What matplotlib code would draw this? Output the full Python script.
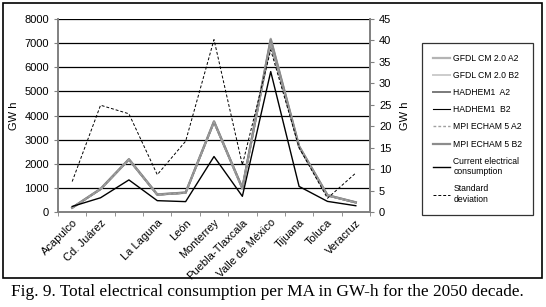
import matplotlib
matplotlib.use("Agg")
import matplotlib.pyplot as plt
import numpy as np

# Datos (GW h)
ciudades = ["Acapulco", "Cd. Juárez", "", "La Laguna", "León", "Monterrey",
            "Puebla-Tlaxcala", "Valle de México", "Tijuana", "Toluca", "Veracruz"]

gfdl_a2 = [180, 960, 2190, 730, 810, 3760, 980, 7180, 2730, 700, 400]
gfdl_b2 = [170, 940, 2160, 710, 790, 3720, 950, 7050, 2690, 680, 390]
hadhem_a2 = [175, 950, 2180, 720, 800, 3740, 1000, 7120, 2710, 690, 395]
hadhem_b2 = [165, 930, 2150, 700, 780, 3700, 940, 6950, 2670, 670, 380]
mpi_a2 = [170, 945, 2170, 715, 795, 3730, 960, 6980, 2700, 680, 385]
mpi_b2 = [175, 955, 2185, 725, 805, 3750, 990, 7150, 2720, 695, 400]
actual = [230, 590, 1330, 470, 430, 2300, 650, 5820, 1060, 440, 260]
desv_std = [7.1, 24.9, 22.9, 8.7, 16.5, 40.2, 11.0, 37.8, 15.0, 3.2, 9.1]

plt.rcParams["font.family"] = ["Liberation Sans", "DejaVu Sans"]

fig = plt.figure(figsize=(5.46, 3.07), dpi=100)
ax = fig.add_axes([58/546, 1 - 212/307, 312/546, 193/307])
x = np.arange(len(ciudades))

ax.set_ylim(0, 8000)
ax.set_xlim(-0.5, len(ciudades) - 0.5)
ax.set_yticks(range(0, 8001, 1000))
for v in range(1000, 8001, 1000):
    ax.axhline(v, color="black", lw=0.9, zorder=1)

# Escenarios
l4, = ax.plot(x, hadhem_b2, color="black", lw=0.8, label="HADHEM1  B2", zorder=2)
l1, = ax.plot(x, gfdl_a2, color="#b4b4b4", lw=1.6, label="GFDL CM 2.0 A2", zorder=3)
l2, = ax.plot(x, gfdl_b2, color="#cccccc", lw=1.4, label="GFDL CM 2.0 B2", zorder=3)
l3, = ax.plot(x, hadhem_a2, color="#7a7a7a", lw=1.4, label="HADHEM1  A2", zorder=3)
l5, = ax.plot(x, mpi_a2, color="#a0a0a0", lw=1.0, ls=(0, (2, 1.5)), label="MPI ECHAM 5 A2", zorder=4)
l6, = ax.plot(x, mpi_b2, color="#8c8c8c", lw=1.6, label="MPI ECHAM 5 B2", zorder=3)
l7, = ax.plot(x, actual, color="black", lw=1.0, label="Current electrical\nconsumption", zorder=5)

ax2 = ax.twinx()
ax2.set_ylim(0, 45)
ax2.set_yticks(range(0, 46, 5))
l8, = ax2.plot(x, desv_std, color="black", lw=0.7, ls=(0, (3, 2)), label="Standard\ndeviation")

ax.set_xticks(x)
ax.set_xticklabels(ciudades, rotation=45, ha="right", rotation_mode="anchor", fontsize=8)
ax.set_xticks(np.arange(-0.5, len(ciudades), 1), minor=True)
ax.tick_params(axis="x", which="major", length=0, pad=4)
ax.tick_params(axis="x", which="minor", length=3, color="#808080")
ax.tick_params(axis="y", labelsize=8, length=3, color="#808080")
ax2.tick_params(axis="y", labelsize=8, length=3, color="#808080")

for a in (ax, ax2):
    a.spines["top"].set_visible(False)
    for s in ("left", "right", "bottom"):
        a.spines[s].set_color("#808080")
        a.spines[s].set_linewidth(1.2)

ax.set_ylabel("GW h", fontsize=8, labelpad=4)
ax2.set_ylabel("GW h", fontsize=8, labelpad=6)

orden = [l1, l2, l3, l4, l5, l6, l7, l8]
leg = fig.legend(orden, [h.get_label() for h in orden],
                 loc="upper left", bbox_to_anchor=(422/546, 1 - 43/307),
                 fontsize=6.2, frameon=True, fancybox=False, edgecolor="black",
                 handlelength=2.0, handletextpad=0.4, labelspacing=0.95,
                 borderpad=1.25, borderaxespad=0)
leg.get_frame().set_linewidth(0.9)

# Marco exterior
fig.patches.append(plt.Rectangle((3/546, 1 - 278/307), 539/546, 275/307,
                                 transform=fig.transFigure, fill=False,
                                 edgecolor="black", lw=1.2))

fig.text(0.49, 1 - 292/307, "Fig. 9. Total electrical consumption per MA in GW-h for the 2050 decade.",
         ha="center", va="center", fontsize=12.4, family=["Liberation Serif", "DejaVu Serif"])

fig.savefig("out.png", dpi=100)
